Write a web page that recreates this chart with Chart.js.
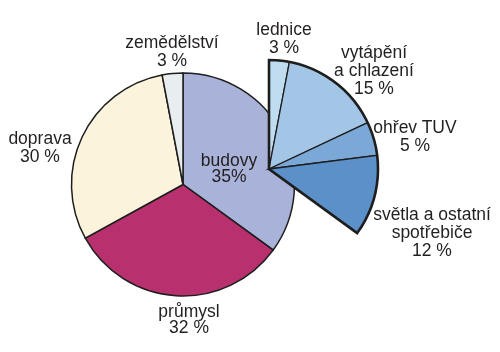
<!DOCTYPE html>
<html>
<head>
<meta charset="utf-8">
<script src="https://cdn.jsdelivr.net/npm/chart.js@4/dist/chart.umd.min.js"></script>
<style>
  html, body { margin: 0; padding: 0; background: #fff; }
  #wrap { position: relative; width: 500px; height: 352px; overflow: hidden; }
  #wrap canvas { position: absolute; left: 0; top: 0; }
  .lbl { position: absolute; transform: translateX(-50%); white-space: nowrap; text-align: center;
         font-family: "Liberation Sans", Arial, sans-serif; font-size: 17.5px; line-height: 18px; color: #231f20; }
</style>
</head>
<body>
<div id="wrap">
  <canvas id="main" width="500" height="352"></canvas>
  <canvas id="sub" width="500" height="352"></canvas>
  <canvas id="outline" width="500" height="352"></canvas>
</div>
<script>
// Main sectors (share of energy consumption, %)
const mainCategories = ['budovy', 'průmysl', 'doprava', 'zemědělství'];
const mainValues = [35, 32, 30, 3];
const mainColors = ['#a9b2d9', '#b8306e', '#fcf3dc', '#e8eef0'];

// Breakdown of "budovy" (%)
const subCategories = ['lednice', 'vytápění a chlazení', 'ohřev TUV', 'světla a ostatní spotřebiče'];
const subValues = [3, 15, 5, 12];
const subColors = ['#c0dcf0', '#a3c6e6', '#7ba8d7', '#5b90c9'];

const restValue = mainValues.slice(1).reduce((a, b) => a + b, 0); // remainder of circle, left empty

// Label texts (lines)
const labelTexts = [
  { lines: ['zemědělství', '3 %'], x: 172, top: 33 },
  { lines: ['doprava', '30 %'], x: 40, top: 129 },
  { lines: ['budovy', '35%'], x: 229, top: 152, lh: 16 },
  { lines: ['průmysl', '32 %'], x: 189, top: 303, lh: 16 },
  { lines: ['lednice', '3 %'], x: 284, top: 20 },
  { lines: ['vytápění', 'a chlazení', '15 %'], x: 374, top: 43 },
  { lines: ['ohřev TUV', '5 %'], x: 415, top: 118 },
  { lines: ['světla a ostatní', 'spotřebiče', '12 %'], x: 432, top: 205 }
];

const common = {
  responsive: false,
  animation: false,
  events: [],
  plugins: { legend: { display: false }, tooltip: { enabled: false } }
};

new Chart(document.getElementById('main'), {
  type: 'pie',
  data: {
    labels: mainCategories,
    datasets: [{
      data: mainValues,
      backgroundColor: mainColors,
      borderColor: '#1e1e1e',
      borderWidth: 1.5,
      borderJoinStyle: 'miter'
    }]
  },
  options: Object.assign({}, common, {
    radius: 111.5,
    layout: { padding: { left: 0, right: 134, top: 17, bottom: 0 } }
  })
});

new Chart(document.getElementById('sub'), {
  type: 'pie',
  data: {
    labels: subCategories.concat(['']),
    datasets: [{
      data: subValues.concat([restValue]),
      backgroundColor: subColors.concat(['rgba(0,0,0,0)']),
      borderColor: subColors.map(() => '#1e1e1e').concat(['rgba(0,0,0,0)']),
      borderWidth: subColors.map(() => 1.3).concat([0]),
      borderJoinStyle: 'miter'
    }]
  },
  options: Object.assign({}, common, {
    radius: 109,
    layout: { padding: { left: 38, right: 0, top: 0, bottom: 14 } }
  })
});

new Chart(document.getElementById('outline'), {
  type: 'pie',
  data: {
    labels: ['budovy', ''],
    datasets: [{
      data: [mainValues[0], restValue],
      backgroundColor: ['rgba(0,0,0,0)', 'rgba(0,0,0,0)'],
      borderColor: ['#1e1e1e', 'rgba(0,0,0,0)'],
      borderWidth: [2.6, 0],
      borderJoinStyle: 'miter'
    }]
  },
  options: Object.assign({}, common, {
    radius: 109,
    layout: { padding: { left: 38, right: 0, top: 0, bottom: 14 } }
  })
});

const wrap = document.getElementById('wrap');
labelTexts.forEach(l => {
  const d = document.createElement('div');
  d.className = 'lbl';
  d.style.left = l.x + 'px';
  d.style.top = l.top + 'px';
  if (l.lh) d.style.lineHeight = l.lh + 'px';
  d.innerHTML = l.lines.join('<br>');
  wrap.appendChild(d);
});
</script>
</body>
</html>
